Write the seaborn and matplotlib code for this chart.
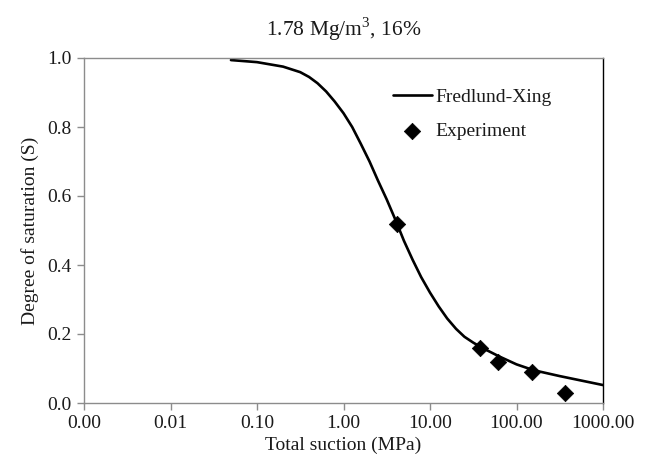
import matplotlib
matplotlib.use("Agg")
import matplotlib.pyplot as plt
import seaborn as sns
import pandas as pd
from matplotlib.ticker import FixedLocator, FixedFormatter, NullLocator

sns.set_theme(style="white")
plt.rcParams['font.family'] = ['Liberation Serif', 'DejaVu Serif']
plt.rcParams['mathtext.fontset'] = 'custom'
plt.rcParams['mathtext.rm'] = 'Liberation Serif'

# Fredlund-Xing fitted curve
fx_suction = [0.05, 0.1, 0.2, 0.316, 0.4, 0.5, 0.63, 0.79, 1.0, 1.26, 1.58, 2.0, 2.5,
              3.16, 4.0, 5.0, 6.3, 7.9, 10, 12.6, 15.8, 20, 25, 31.6, 40, 63,
              100, 158, 316, 562, 1000]
fx_sat = [0.994, 0.988, 0.975, 0.959, 0.945, 0.927, 0.903, 0.874, 0.84, 0.80, 0.752,
          0.70, 0.645, 0.59, 0.53, 0.47, 0.415, 0.365, 0.32, 0.28, 0.245, 0.215,
          0.192, 0.175, 0.16, 0.135, 0.112, 0.095, 0.078, 0.065, 0.052]

# Experimental points
exp_suction = [4.15, 38, 61, 151, 364]
exp_sat = [0.52, 0.16, 0.12, 0.09, 0.029]

x_ticks = [0.001, 0.01, 0.1, 1, 10, 100, 1000]
x_tick_labels = ["0.00", "0.01", "0.10", "1.00", "10.00", "100.00", "1000.00"]
y_ticks = [0.0, 0.2, 0.4, 0.6, 0.8, 1.0]
y_tick_labels = ["0.0", "0.2", "0.4", "0.6", "0.8", "1.0"]

fx_df = pd.DataFrame({"suction": fx_suction, "S": fx_sat})
exp_df = pd.DataFrame({"suction": exp_suction, "S": exp_sat})

fig = plt.figure(figsize=(6.48, 4.59), dpi=100)
ax = fig.add_axes([84/648, 1-403/459, (603-84)/648, (403-58)/459])

sns.lineplot(data=fx_df, x="suction", y="S", ax=ax, color="black", linewidth=1.9,
             label="Fredlund-Xing", solid_joinstyle="round")
sns.scatterplot(data=exp_df, x="suction", y="S", ax=ax, marker="D", s=70,
                color="black", edgecolor="black", linewidth=0.5, label="Experiment",
                zorder=3)

ax.set_xscale("log")
ax.set_xlim(0.001, 1000)
ax.set_ylim(0.0, 1.0)
ax.xaxis.set_major_locator(FixedLocator(x_ticks))
ax.xaxis.set_major_formatter(FixedFormatter(x_tick_labels))
ax.xaxis.set_minor_locator(NullLocator())
ax.yaxis.set_major_locator(FixedLocator(y_ticks))
ax.yaxis.set_major_formatter(FixedFormatter(y_tick_labels))

grey = "#8c8c8c"
for side in ["left", "bottom", "top"]:
    ax.spines[side].set_color(grey)
    ax.spines[side].set_linewidth(1.0)
ax.spines["right"].set_color("black")
ax.spines["right"].set_linewidth(1.0)

ax.tick_params(axis="both", which="major", direction="out", length=5, width=1,
               color=grey, labelsize=14, labelcolor="#1a1a1a", pad=4,
               bottom=True, left=True)

ax.set_xlabel("Total suction (MPa)", fontsize=14, color="#1a1a1a", labelpad=3)
ax.set_ylabel("Degree of saturation (S)", fontsize=14, color="#1a1a1a", labelpad=6)
ax.set_title("1.78 Mg/m$^3$, 16%", fontsize=15.5, color="#1a1a1a", pad=16)

leg = ax.legend(loc="upper left", bbox_to_anchor=(0.595, 0.912), frameon=False,
                borderpad=0, borderaxespad=0, fontsize=14, handlelength=2.0,
                handletextpad=0.2, labelspacing=0.85)
for t in leg.get_texts():
    t.set_color("#1a1a1a")

fig.savefig("out.png", dpi=100)
